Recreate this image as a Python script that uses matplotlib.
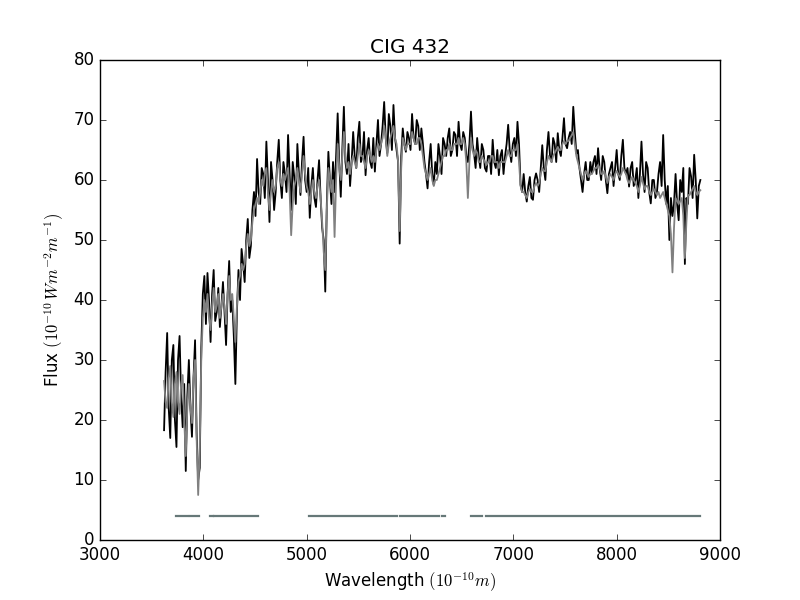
import numpy as np
import matplotlib
matplotlib.use('Agg')
import matplotlib.pyplot as plt

# wavelength grid of the resampled spectrum (Angstrom)
wave_start = 3620
wave_step = 30

flux_obs = [
    18.3, 34.5, 17.0, 32.5, 15.5, 34.0, 18.8, 11.5, 30.0, 17.2,
    33.3, 10.0, 32.0, 44.0, 44.5, 33.0, 45.0, 38.0, 35.5, 43.0,
    32.5, 46.5, 40.0, 26.0, 45.0, 48.5, 43.0, 53.5, 49.0, 58.0,
    63.5, 56.0, 61.0, 66.4, 53.0, 60.0, 58.0, 66.7, 57.0, 61.0,
    67.5, 55.0, 60.5, 66.0, 57.5, 67.2, 58.0, 53.7, 62.0, 55.5,
    63.3, 52.0, 41.4, 64.7, 56.0, 58.0, 71.1, 57.2, 72.2, 61.0,
    59.0, 68.0, 62.0, 69.7, 64.0, 60.8, 67.0, 62.0, 61.4, 70.0,
    66.0, 73.0, 64.5, 69.0, 72.5, 65.0, 49.4, 68.6, 64.7, 67.0,
    71.0, 66.0, 69.0, 68.6, 63.0, 58.6, 66.0, 59.2, 61.0, 64.0,
    67.0, 64.0, 68.6, 65.0, 67.5, 69.7, 65.0, 67.0, 63.0, 71.4,
    64.4, 67.0, 62.0, 65.0, 61.4, 64.0, 66.7, 62.0, 60.8, 65.0,
    64.0, 69.2, 63.0, 67.0, 69.7, 59.2, 61.0, 56.4, 60.5, 56.7,
    61.1, 58.0, 65.8, 60.0, 68.0, 63.0, 66.0, 67.8, 64.0, 70.3,
    65.3, 68.0, 72.2, 64.4, 62.0, 58.0, 63.0, 60.0, 61.1, 64.0,
    65.3, 60.0, 63.0, 57.8, 62.0, 59.0, 65.0, 60.0, 66.7, 61.0,
    58.9, 63.0, 60.0, 57.0, 66.4, 58.0, 62.0, 56.1, 60.0, 58.0,
    63.0, 67.5, 56.0, 50.0, 54.0, 61.0, 53.3, 58.0, 46.0, 56.0,
    60.6, 64.2, 53.6, 60.0,
]
# observed values half way between the grid points above
flux_obs_mid = [
    28.0, 22.0, 30.0, 20.0, 30.0, 24.0, 26.0, 24.0, 22.0, 27.0,
    18.0, 12.0, 41.0, 36.0, 40.0, 41.0, 36.5, 42.0, 39.0, 38.0,
    41.0, 38.0, 34.0, 38.0, 40.0, 46.0, 50.0, 47.0, 55.0, 54.0,
    58.0, 62.0, 57.0, 60.0, 63.0, 55.0, 63.0, 60.0, 63.0, 58.0,
    61.0, 63.0, 56.0, 61.0, 63.0, 60.0, 62.0, 59.0, 57.0, 60.0,
    57.0, 50.0, 56.0, 60.0, 63.0, 64.0, 63.0, 65.0, 63.0, 66.0,
    63.0, 64.0, 67.0, 63.0, 68.0, 65.0, 63.0, 67.0, 66.0, 64.0,
    69.0, 67.0, 71.0, 65.0, 67.0, 63.0, 64.0, 66.0, 68.0, 65.0,
    67.0, 70.0, 65.0, 66.0, 61.0, 63.0, 61.0, 63.0, 66.0, 61.0,
    66.0, 67.0, 64.0, 68.0, 64.0, 66.0, 68.0, 64.0, 66.0, 66.0,
    62.0, 64.0, 66.0, 62.0, 64.0, 61.0, 63.0, 65.0, 64.0, 61.0,
    66.0, 65.0, 66.0, 64.0, 66.0, 58.0, 58.0, 59.0, 57.0, 60.0,
    60.0, 62.0, 62.0, 65.0, 64.0, 67.0, 63.0, 65.0, 67.0, 66.0,
    67.0, 66.0, 68.0, 65.0, 60.0, 61.0, 60.0, 63.0, 63.0, 61.0,
    62.0, 64.0, 60.0, 61.0, 63.0, 62.0, 61.0, 64.0, 62.0, 62.0,
    62.0, 59.0, 62.0, 61.0, 61.0, 63.0, 58.0, 60.0, 57.0, 61.0,
    59.0, 60.0, 59.0, 57.0, 56.0, 56.0, 60.0, 62.0, 57.0, 62.0,
    57.0, 60.0, 59.0,
]

# synthetic / fitted spectrum (grey)
flux_fit = [
    26.5, 22.0, 29.0, 20.5, 28.0, 21.0, 27.5, 14.0, 26.0, 19.5,
    30.0, 7.5, 30.0, 40.0, 41.0, 35.0, 42.0, 39.0, 37.0, 41.0,
    36.0, 44.0, 41.0, 33.0, 43.0, 46.0, 46.0, 51.0, 50.0, 55.0,
    57.0, 58.0, 59.0, 62.0, 55.0, 60.0, 59.0, 63.0, 59.0, 60.0,
    62.0, 50.8, 59.0, 62.0, 58.0, 64.0, 59.0, 56.0, 60.0, 57.0,
    60.0, 53.0, 45.0, 62.0, 58.0, 50.5, 66.0, 60.0, 68.0, 62.0,
    61.0, 64.0, 62.0, 66.0, 64.0, 62.0, 65.0, 63.0, 63.0, 66.0,
    66.0, 69.0, 64.0, 67.0, 69.0, 66.0, 51.5, 67.0, 65.0, 66.0,
    68.0, 66.0, 67.0, 66.0, 62.0, 60.0, 62.0, 59.0, 60.0, 62.0,
    64.0, 65.0, 66.0, 65.0, 66.0, 67.0, 66.0, 66.0, 57.0, 67.0,
    64.0, 64.5, 63.0, 63.5, 62.5, 63.0, 64.0, 63.0, 62.0, 63.0,
    63.0, 65.0, 64.0, 65.0, 66.0, 59.0, 58.0, 57.0, 58.5, 58.0,
    59.5, 59.5, 62.0, 61.5, 64.0, 63.0, 64.5, 65.5, 65.0, 66.5,
    66.5, 67.0, 68.0, 64.0, 62.0, 60.0, 61.5, 60.5, 61.0, 62.0,
    62.5, 61.0, 61.5, 59.5, 61.0, 60.0, 61.5, 60.5, 62.0, 61.0,
    59.5, 60.5, 59.5, 58.0, 60.5, 58.5, 59.0, 57.5, 58.5, 57.5,
    57.0, 58.0, 56.0, 54.0, 44.6, 57.0, 56.0, 57.0, 47.0, 57.5,
    58.0, 59.0, 57.5, 58.3,
]
flux_fit_mid = [
    23.0, 27.0, 23.0, 26.0, 23.0, 26.0, 20.0, 22.0, 22.0, 27.0,
    17.0, 15.0, 37.0, 38.0, 37.0, 39.0, 38.0, 41.0, 39.0, 39.0,
    41.0, 40.0, 37.0, 39.0, 44.0, 45.0, 49.0, 49.0, 53.0, 56.0,
    56.0, 60.0, 61.0, 58.0, 58.0, 58.0, 62.0, 60.0, 61.0, 61.0,
    58.0, 56.0, 60.0, 60.0, 61.0, 61.0, 58.0, 58.0, 58.0, 59.0,
    57.0, 48.0, 55.0, 60.0, 60.0, 60.0, 62.0, 64.0, 64.0, 63.0,
    63.0, 63.0, 64.0, 64.0, 63.0, 64.0, 64.0, 64.0, 65.0, 65.0,
    67.0, 67.0, 66.0, 68.0, 67.0, 63.0, 62.0, 66.0, 66.0, 66.0,
    67.0, 66.0, 67.0, 64.0, 61.0, 61.0, 60.0, 60.0, 61.0, 63.0,
    64.0, 65.0, 65.0, 66.0, 66.0, 66.0, 67.0, 63.0, 63.0, 65.0,
    65.0, 63.0, 64.0, 63.0, 63.0, 64.0, 63.0, 63.0, 63.0, 63.0,
    64.0, 64.0, 65.0, 65.0, 63.0, 58.0, 57.5, 58.0, 58.0, 59.0,
    59.0, 61.0, 61.5, 63.0, 63.5, 64.0, 65.0, 65.0, 66.0, 66.0,
    66.5, 67.5, 66.0, 63.0, 61.0, 61.0, 61.0, 61.0, 61.5, 62.0,
    62.0, 61.0, 60.5, 60.5, 60.5, 61.0, 61.0, 61.0, 61.5, 60.0,
    60.0, 60.0, 59.0, 59.0, 59.5, 59.0, 58.0, 58.0, 58.0, 58.0,
    57.5, 57.0, 55.0, 51.0, 52.0, 56.5, 56.5, 54.0, 53.0, 57.5,
    58.5, 58.0, 58.0,
]

# wavelength windows used in the fit (drawn at flux = 4)
mask_start = [3731, 3871, 4065, 4100, 5023, 5903, 6310, 6594, 6739]
mask_end = [3854, 3958, 4089, 4529, 5870, 6281, 6339, 6693, 8810]
mask_level = 4


def interleave(main, mid):
    out = np.empty(len(main) + len(mid))
    out[0::2] = main
    out[1::2] = mid
    return out


n = len(flux_obs)
wave = wave_start + (wave_step / 2.0) * np.arange(2 * n - 1)
obs = interleave(flux_obs, flux_obs_mid)
fit = interleave(flux_fit, flux_fit_mid)

plt.style.use('classic')
fig = plt.figure(figsize=(8, 6), dpi=100)
ax = fig.add_subplot(111)

ax.plot(wave, obs, color='black', lw=1.3)
ax.plot(wave, fit, color='grey', lw=1.3)
for a, b in zip(mask_start, mask_end):
    ax.plot([a, b], [mask_level, mask_level], color='#667878', lw=1.6)

ax.set_xlim(3000, 9000)
ax.set_ylim(0, 80)
ax.set_title('CIG 432')
ax.set_xlabel(r'Wavelength $(10^{-10}m)$')
ax.set_ylabel(r'Flux $(10^{-10}\,Wm^{-2}m^{-1})$')

fig.savefig('out.png', dpi=100)
